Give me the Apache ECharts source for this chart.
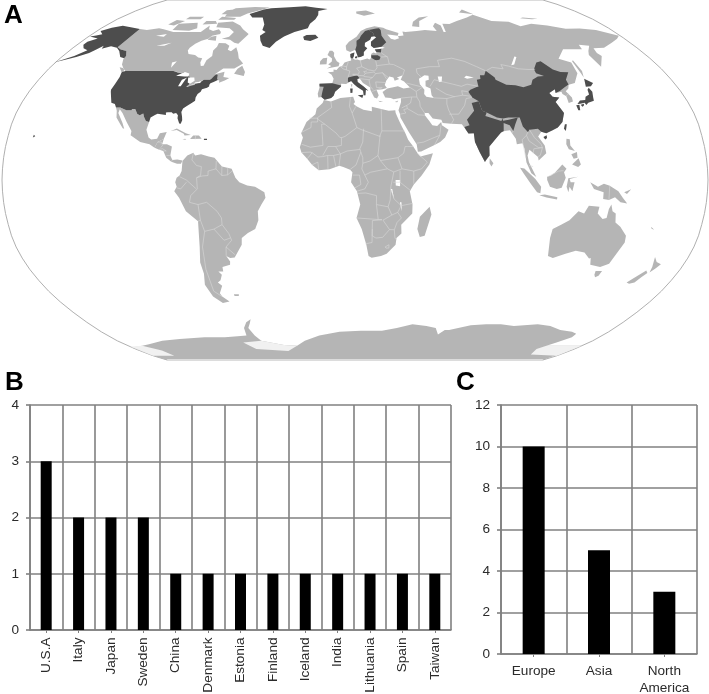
<!DOCTYPE html>
<html><head><meta charset="utf-8">
<style>html,body{margin:0;padding:0;background:#fff}#c{width:709px;height:694px}</style>
<script src="https://cdn.jsdelivr.net/npm/echarts@6/dist/echarts.min.js"></script>
</head><body><div id="c"></div>
<script>
// ---- chart values ----
const countries = ['U.S.A','Italy','Japan','Sweden','China','Denmark','Estonia','Finland','Iceland','India','Lithuania','Spain','Taiwan'];
const countryCounts = [3,2,2,2,1,1,1,1,1,1,1,1,1];
const continents = ['Europe','Asia','North\nAmerica'];
const continentCounts = [10,5,3];
const countryTicks = [0,1,2,3,4];
const continentTicks = [0,2,4,6,8,10,12];

// ---- map outlines, longitude / latitude ----
const highlighted = [
 ['USA',[[[-124.7,48.4],[-123,49],[-95,49],[-94.6,48.7],[-92,48.3],[-89.5,48],[-88.4,48.3],[-84.9,46.9],[-84.5,46.5],[-83.5,46],[-82.5,45.3],[-82.1,43.6],[-82.5,42.6],[-83.1,42.1],[-82.7,41.7],[-79,42.8],[-79,43.3],[-76.8,43.6],[-75,45],[-71.5,45],[-70.8,45.4],[-70,46.7],[-69.2,47.4],[-68.3,47.3],[-67.8,47],[-67.8,45.7],[-67,44.9],[-69,44],[-70.5,43.4],[-70.8,42.7],[-70.6,41.9],[-70,41.7],[-71.5,41.4],[-74,40.7],[-74.2,39.5],[-75.5,38.5],[-76,37],[-75.7,35.5],[-77,34.6],[-79,33.4],[-81,32],[-81.4,30.5],[-80.5,28.5],[-80,26.8],[-80.4,25.2],[-81.2,25.3],[-82.7,27.7],[-82.8,29],[-84,30],[-85.5,29.7],[-86.5,30.4],[-88.5,30.3],[-89.5,30.2],[-89.2,29.1],[-91,29.3],[-93.8,29.7],[-95,29.1],[-97,28],[-97.2,26],[-99,26.4],[-100.5,28.2],[-101.4,29.8],[-103,29],[-104.5,29.6],[-106.5,31.8],[-108.2,31.8],[-108.2,31.3],[-111,31.3],[-114.8,32.5],[-117.1,32.5],[-118.4,34],[-120.6,34.6],[-122,36.8],[-123.8,39.5],[-124.3,40.4],[-124.1,43],[-124,46.3]],
  [[-141,69.6],[-148,70.4],[-156.5,71.3],[-162,70.2],[-166.5,68.5],[-162,66.8],[-165,66.2],[-168,65.6],[-161,64.6],[-165,63],[-165,61.5],[-162,59.8],[-158,58.8],[-162,56],[-170,53],[-160,55.5],[-155,57.5],[-153,59],[-151,61],[-150,59.5],[-146,60.8],[-141,60],[-137.5,58.5],[-133,55.5],[-130,55],[-130,56],[-133,58.5],[-137.5,59.2],[-141,60.3]],
  [[-156,19],[-154.9,19.6],[-155.8,20.3]],[[-157,20.6],[-156,20.6],[-156.5,21]],
  [[-67.2,17.9],[-65.6,17.9],[-65.6,18.5],[-67.2,18.5]]]],
 ['Greenland',[[[-73,78.2],[-68,76],[-60,76],[-55,72],[-54,69],[-51,68],[-53.5,66],[-51.5,63.5],[-48.5,61],[-43.5,59.9],[-41,63],[-37,65.7],[-31,68],[-22.5,70],[-22,72.5],[-19,75],[-18,77.5],[-19,80],[-12,81.5],[-22,82.3],[-32,83.6],[-45,82.8],[-60,82],[-65,81],[-68,79.8]]]],
 ['Iceland',[[[-24,65.5],[-22,66.4],[-16,66.5],[-13.6,65],[-18.5,63.4],[-22.7,63.9]]]],
 ['Spain',[[[-9,43.2],[-1.8,43.4],[3.2,42.4],[3.2,41.9],[0,39.5],[-0.7,37.7],[-2,36.8],[-5.5,36],[-7.4,37.2],[-7,39.5],[-6.5,41.8],[-8.8,41.9]]]],
 ['Italy',[[[7.5,43.8],[8.8,44.4],[10.5,43],[12.3,41.7],[15.5,40],[15.8,38],[16.7,38],[17,40.4],[18.4,40],[16,41.8],[12.5,44],[12.3,45.3],[13.6,45.7],[12.2,47],[7,46],[7,44.2]],
  [[12.5,38],[15.6,38.2],[15,36.7]],[[8.3,41],[9.7,41],[9.6,39.1],[8.5,39]]]],
 ['Sweden',[[[11.2,59],[12.5,56.3],[12.9,55.4],[14.3,55.5],[16.4,56.3],[16.5,58],[18.8,59.8],[17.2,60.8],[17.5,62.5],[21,64],[22,65.5],[24,65.8],[23.5,67.5],[20.5,69],[18,68.5],[15,66],[14,64.5],[12,63.5],[12,61]]]],
 ['Finland',[[[24,65.8],[25.3,65.2],[21.5,63],[21.3,61],[23,59.9],[28,60.5],[31.5,62.8],[29,66],[29,69],[28,70],[26,69.8],[20.5,69],[23.5,67.5]]]],
 ['Denmark',[[[8.2,55.5],[8.1,57],[10.6,57.7],[10.3,56],[9.7,54.9],[8.7,54.9]],[[11,55.7],[12.5,56],[12.3,55],[11,55]]]],
 ['Estonia',[[[23.5,59.2],[28,59.5],[27.5,57.7],[24.4,58],[24.4,58.4]]]],
 ['Lithuania',[[[21,55.2],[21,56.4],[25,56.4],[26.7,55.5],[25.8,54.2],[23.5,54],[22.7,54.4]]]],
 ['China',[[[73.6,39.5],[75,40.5],[80,42],[80.3,45],[82.5,45.3],[83,47],[85.5,47],[87.3,49.1],[91,46],[91,45],[96,42.7],[101,42.5],[105,41.6],[110,42.7],[112,45],[116,46.5],[119.7,46.7],[116,48],[116,49.8],[120,53],[123,53.5],[127,49.7],[130.5,48.5],[135,48.4],[131,45],[131,42.8],[128,41.6],[124.5,40],[121.5,39],[122,40.7],[118,39],[119,37.3],[122.5,37],[119.5,35],[121,32],[122,30],[120,26],[117,23.5],[114,22.3],[110.5,21],[108,21.6],[106.5,23],[102,22.5],[101,21.5],[98.8,24],[98,28],[92,28],[89,27.5],[86,28],[81,30.2],[78.8,31],[78,35.3],[75,37]],
  [[108.7,19.3],[110.5,20],[110.5,18.8],[109.5,18.2]]]],
 ['India',[[[68.2,23.7],[71,24.5],[70,27],[74.5,31],[74,34.5],[78,35.3],[78.8,31],[81,30.2],[80,28.7],[88,26.4],[88.8,27.5],[89,26.6],[92,27],[97,28],[95,25],[93.5,22],[92,24.5],[89,25.5],[88.5,22],[87,21.3],[85,19.5],[80.2,15],[80,11],[78,8.8],[77.5,8.1],[75,12.5],[73,17],[72.8,21],[70,20.8],[69,22.3]]]],
 ['Japan',[[[130.9,34],[133,35.6],[136,35.8],[137,37.3],[139.5,38.3],[140,40.5],[141.3,41.4],[142,39.5],[141,37],[140.5,35.5],[137,34.6],[135.5,33.6],[135,34.6],[132.5,34.2]],
  [[140,41.8],[141.7,45.4],[145.3,43.5],[143,42]],[[130,33.5],[131.8,33.7],[131.2,31.3],[130.2,31.3]],[[132.5,33.7],[134.5,34.2],[134,33.3],[133,32.8]]]],
 ['Taiwan',[[[120.1,23],[121,25],[122,25],[120.9,22]]]]
];
const otherLand = [
 ['Canada',[[[-141,69.6],[-135,69],[-128,70],[-124,69.5],[-115,68],[-108,68],[-100,68],[-96,68],[-94,71.5],[-92,69.5],[-88,68.5],[-85,69.5],[-82,68],[-81.5,67],[-86,66],[-87,64.5],[-90.5,63.5],[-93,62],[-94.5,60],[-94.5,58.7],[-92.5,57],[-88,56.5],[-85,55.3],[-82.3,55],[-82,53],[-80.5,51.3],[-79,51.5],[-79,54],[-77,56],[-78.5,58.7],[-77.5,60.5],[-78,62.4],[-73.5,62.3],[-70,61],[-69.5,59],[-67,58.3],[-65,60.3],[-62,57.5],[-60,55],[-56,52.5],[-60,50.2],[-66.5,50.2],[-70,47.5],[-65,48.7],[-64.5,46.3],[-61,45.8],[-60,46.2],[-63,44.7],[-65.8,43.6],[-66,44.6],[-67,44.9],[-67.8,45.7],[-70,45],[-75,45],[-79,43.3],[-83,42],[-84.5,46.5],[-89.5,48],[-95,49],[-123,49],[-125,50],[-128,52],[-130,54.6],[-130,56],[-133,58.5],[-137.5,59.2],[-141,60.3]],
  [[-62,66.5],[-65,62],[-68,62.5],[-72,64],[-78,64.5],[-74,65.5],[-73,68],[-78,70],[-88,70.5],[-90,73],[-80,73.7],[-72,71.5],[-68,69.5],[-62,67]],
  [[-117,69],[-105,68.7],[-101,70],[-105,73],[-118,72.5]],[[-125,72],[-120,71.5],[-116,74],[-123,74.5]],
  [[-90,76.5],[-78,76.5],[-75,78.5],[-65,81.5],[-62,82.5],[-75,83],[-90,82],[-92,80]],[[-92,74.6],[-80,74.6],[-80,75.7],[-92,76.5]],
  [[-95,78],[-87,78],[-90,81],[-95,80.5]],[[-117,75],[-106,75],[-106,76.5],[-117,76.5]],[[-100,72],[-90,72.5],[-93,74],[-100,74]],
  [[-87,64],[-81,63.5],[-83,66],[-86,65.5]],[[-59,47.7],[-53,46.7],[-53,48.5],[-56,51.5],[-58,50]],[[-128,50.7],[-125,48.6],[-123.5,48.4],[-125,50.3]]]],
 ['Mexico',[[[-117.1,32.5],[-114.8,32.5],[-111,31.3],[-108.2,31.3],[-108.2,31.8],[-106.5,31.8],[-104.5,29.6],[-103,29],[-101.4,29.8],[-100.5,28.2],[-99,26.4],[-97.2,26],[-97.8,22.5],[-96,19],[-94.5,18.2],[-91.5,18.5],[-90.5,21],[-87,21.5],[-88,18.5],[-89,17.9],[-91,17],[-92.2,14.5],[-95,16],[-100,17],[-105.5,20],[-105.5,22],[-109,26],[-112.5,30],[-114.7,31.7],[-114.7,30],[-111,25.5],[-109.5,23],[-110.3,23.2],[-112,25],[-115,28],[-116,31]]]],
 ['CentralAmerica',[[[-92.2,14.5],[-91,17],[-89,17.9],[-88,18.5],[-88.5,16],[-86,16],[-83.3,15],[-83.7,11],[-82.5,9],[-80,9.2],[-77.3,8.7],[-78,7.3],[-80,7.3],[-83,8.2],[-85.7,10],[-87.5,13],[-90,13.7]],
  [[-85,21.9],[-82,23.1],[-77,21],[-74.2,20.2],[-77.5,19.9],[-78,20.7],[-82,22.4]],[[-74.4,18.4],[-68.4,18.5],[-70,19.9],[-73,19.9]],[[-78.3,18.2],[-76.3,18],[-77,18.5]]]],
 ['SouthAmerica',[[[-77.3,8.5],[-75,11],[-72,12.2],[-71,11],[-68,11.5],[-64,10.5],[-61,10],[-57,6],[-52,5],[-50,1],[-48,-1],[-44,-2.5],[-40,-3],[-35.3,-5.5],[-34.8,-8],[-37,-11],[-39,-14],[-39,-18],[-41,-22],[-45,-23.8],[-48.5,-26],[-49,-29],[-52,-32.5],[-54,-34.7],[-56.5,-34.9],[-58.4,-34],[-57,-36.5],[-57.5,-38],[-62,-39],[-62.3,-41],[-65,-41],[-63.7,-42.5],[-65.5,-45],[-67.5,-46],[-65.8,-47.5],[-69,-51],[-68.5,-52.5],[-65.5,-54.8],[-70,-55.5],[-74,-52.5],[-75.5,-47],[-73.5,-42],[-73.5,-37],[-71.5,-30],[-70.3,-18.5],[-76,-14],[-79,-8],[-81.3,-5],[-80,-3],[-80.7,-1],[-80,1],[-78.5,2],[-77.5,4]],
  [[-61,-51.5],[-58,-51.5],[-58.5,-52.3],[-61,-52.3]]]],
 ['Africa',[[[-5.9,35.8],[-2,35.2],[3,36.8],[10,37.3],[11,35],[10.2,34],[12,32.9],[15.5,31.5],[20,30.8],[20,32.8],[25,31.8],[29,31],[32.5,31.3],[32.6,30],[34,27],[35.5,24],[37.2,21],[38.5,18],[41,15],[43.3,11.8],[44.5,10.5],[51,12],[49,7],[45,2],[41,-2],[39,-5],[40.5,-11],[40.5,-15],[35,-20],[35.3,-24],[32.8,-26],[32.5,-29],[28,-33],[25,-34],[20,-34.8],[18.3,-34],[17,-29],[14.5,-22],[11.8,-17],[13.7,-11],[12,-5],[9,-1],[9.7,3.5],[8.5,4.6],[5,5.8],[3,6.4],[-2,4.8],[-7.5,4.4],[-11,6.8],[-13.5,9.5],[-16.5,12.3],[-17.4,14.7],[-16,19],[-17,21],[-14.5,26],[-10,29.5],[-9.5,32],[-6.5,34.5]],
  [[49.3,-12],[50.4,-15.5],[47.5,-25],[45,-25.5],[43.5,-22],[44.5,-16.5]]]],
 ['Eurasia',[[[-9,37],[-9.5,38.7],[-8.8,41.5],[-9,43.2],[-1.8,43.4],[-1.2,45.5],[-2.5,47.3],[-4.7,48.4],[-1.5,48.7],[-1.6,49.7],[0.2,49.5],[1.6,50.9],[3.5,51.4],[4.7,53],[7,53.5],[8.7,53.9],[8.2,55.5],[8.1,57],[10.6,57.7],[10.3,56],[9.7,54.9],[11,54.3],[12.5,54.4],[14.2,53.9],[18.5,54.8],[19.8,54.4],[21,55.2],[21,57],[22.5,57.7],[24.3,57.2],[24.4,58.4],[23.5,59.2],[28,59.5],[30,60],[28,60.5],[23,59.9],[21.3,61],[21.5,63],[25.3,65.2],[24,65.8],[22,65.5],[21,64],[17.5,62.5],[17.2,60.8],[18.8,59.8],[16.5,58],[16.4,56.3],[14.3,55.5],[12.9,55.4],[12.5,56.3],[11.2,59],[10.6,59.3],[8,58],[5.5,58.8],[5,61],[7,63],[12,65.5],[15,68.5],[19,70],[25,71],[31,70.2],[33,69.5],[41,67.5],[40,66],[35,66.5],[33,66.7],[35,64.5],[37.5,64],[40.5,64.7],[40,65.8],[44,66.2],[44,68.3],[46,68],[54,68.5],[60,69],[68,68.5],[67,71],[70,73],[73,71.5],[72.5,68],[74,68],[75,72.5],[80,72.3],[87,74],[97,76],[104,77.7],[113,74],[125,73.5],[130,71],[140,72.5],[150,71.5],[160,69.7],[170,69.8],[180,69],[190,66],[186,64.5],[179,62.5],[170,60],[163,59.8],[162,57.5],[163,56],[156.7,51],[155.7,56.5],[158,58.5],[162,61],[156,61.5],[155,59.3],[143,59.3],[135,54.7],[141,53],[140,48],[135,43.5],[131,42.7],[129.7,41],[127.5,39.8],[129.4,37],[129,35.2],[126.4,34.5],[126.6,37.5],[125,38.5],[125,39.6],[121.5,39],[122,40.7],[118,39],[119,37.3],[122.5,37],[119.5,35],[121,32],[122,30],[120,26],[117,23.5],[114,22.3],[110.5,21],[108,21.6],[106,19.5],[108.8,15.5],[109.2,12],[105,8.7],[104.8,10.3],[102,12.5],[100.7,13.5],[99.5,11],[100,8],[103.5,1.3],[101,3],[98.7,8],[98.2,14],[97.5,16.5],[94.5,16],[94.3,18.5],[91.8,22.3],[89,22],[87,21.3],[85,19.5],[80.2,15],[80,11],[77.5,8.1],[75,12.5],[73,17],[72.8,21],[70,20.8],[69,22.3],[67,25],[61.5,25.2],[57,25.5],[56.5,27],[52,27.5],[50,30],[48,30],[48,29],[50,26.5],[51.5,24.5],[54,24.2],[56.3,26],[56.5,24.5],[59.8,22.5],[57.7,19],[55,17],[52,15.7],[45,12.8],[43.3,12.7],[42.8,16],[39,21.5],[35,28],[34.9,29.5],[34.2,31.3],[35.9,35],[36,36.7],[32,36.2],[30.5,36.7],[27.5,37],[26.2,39.4],[29,41],[35,42],[38,41],[41.7,41.5],[38.8,44.2],[37,45],[38.5,47],[35,46],[36.3,45.3],[33.5,44.5],[33,46],[30.7,46.5],[28.7,44.5],[27.7,42.6],[28.8,41.3],[26.3,40.7],[23,40.3],[24,38],[23,36.5],[21.5,37],[19.5,40.5],[19.5,41.5],[15.5,43.5],[13.6,45.7],[12.3,45.3],[12.5,44],[16,41.8],[18.4,40],[17,40.4],[16.7,38],[15.8,38],[15.5,40],[12.3,41.7],[10.5,43],[8.8,44.4],[6,43.1],[3.2,43.2],[3.2,41.9],[0,39.5],[-0.7,37.7],[-2,36.8],[-5.5,36],[-7,37.2]],
  [[-5.5,50.1],[1.3,51.2],[1.7,52.7],[0,53.5],[-2,56],[-2,57.6],[-3.3,58.6],[-5,58.6],[-6,56.5],[-3,54.8],[-3,53.4],[-5,52],[-3,51.3]],
  [[-10,52],[-6,52.2],[-6,54],[-6,55.2],[-8.5,55],[-10,53.5]],[[12,78.5],[18,77],[27,78.5],[20,80.3],[12,79.7]],
  [[52,71],[57,70.7],[59,74],[68,76.8],[60,76],[54,73.5]],[[142,46],[143.5,49],[143,54],[142,53.5],[142,48]],
  [[95,79],[105,78],[100,81]],[[137,75.5],[145,75],[150,75.3],[140,76]],[[8.6,42.9],[9.5,42.9],[9.3,41.4]],
  [[32.5,35],[34.5,35.6],[33.8,34.8]],[[23.6,35.5],[26.2,35.2],[24.5,35]],[[80,9.7],[81.8,7.5],[80.7,6],[79.8,7.5]]]],
 ['Oceania',[[[114,-22],[113.5,-26],[115,-34],[118,-35],[124,-33],[129,-31.7],[134,-32.5],[137.7,-35.2],[138.5,-35],[140,-38],[146,-39],[150,-37.5],[151,-34],[153.5,-28],[153,-25],[149,-21],[146,-19],[145.3,-15],[143.5,-14],[142.5,-11],[141.5,-13],[141,-17],[139,-17.5],[136,-15],[136.5,-12],[131,-11.5],[129,-15],[126,-14],[122,-18],[118,-20]],
  [[144.7,-40.8],[148.3,-40.8],[148,-43],[146.5,-43.6],[145.3,-42.5]],
  [[173,-34.5],[175.5,-36.8],[178.5,-37.7],[177,-39.7],[175.3,-41.5],[174.7,-39]],[[172.7,-40.6],[174.3,-41.7],[172.7,-43.5],[171,-46],[168.5,-46.6],[166.5,-46],[170,-43]],
  [[131,-1],[135,-3],[138,-1.7],[141,-2.6],[145.5,-5],[148,-8],[150.5,-10.5],[147,-10],[144,-7.7],[141,-9],[138,-8.5],[138,-5.5],[133,-4]],
  [[109,1.5],[111,2],[113,3.2],[117,7],[119,5],[117.7,3.5],[118.5,1],[116.5,-3.5],[114,-4],[110.5,-3],[109,0]],
  [[95.3,5.5],[97.5,5.2],[103,0.5],[106,-3],[105.7,-5.9],[104,-5.5],[100.5,-1.5],[97,3]],
  [[105.2,-6.8],[108,-6.5],[114.5,-7.7],[114.4,-8.7],[109,-7.8]],
  [[119.8,0.8],[125,1.5],[120.5,0.5],[121,-1],[123,-1],[122,-5],[120.5,-3],[120,-5.5],[119,-3]],
  [[120.5,18.5],[122.2,18.3],[122,15.5],[124,13],[121,13.8],[120,16]],[[122,7],[125.5,9.7],[126.5,7],[125,5.8]],[[122,11.5],[125,12.5],[125,10],[123,9.5]],
  [[148.5,-5.5],[152,-4.2],[150,-6.3]],[[165,-21],[167,-22.3],[165.5,-21.8]]]],
 ['Antarctica',[[[-169,-90],[-169,-85],[-169,-79],[-158,-78],[-150,-77],[-135,-75],[-120,-74],[-100,-73],[-85,-73],[-75,-72.5],[-68,-72],[-66,-68],[-62,-65],[-58,-63.5],[-60,-65.5],[-63,-68],[-62,-72],[-60,-75],[-45,-77.5],[-35,-78],[-27,-75],[-15,-72],[0,-70],[15,-69.5],[30,-69.5],[40,-68],[50,-66],[60,-67],[67,-68],[71,-71.5],[74,-69],[77,-69],[90,-66.5],[100,-66],[110,-66],[120,-67],[135,-66],[145,-67],[155,-69],[165,-70],[170,-71],[171,-73],[166,-76],[163,-78],[191,-78],[191,-90]]]]
];
const iceShelves = [[[-169,-78.5],[-158,-78],[-150,-81],[-150,-85],[-169,-85]],[[191,-78],[163,-78],[160,-80],[165,-84],[191,-85]],[[-75,-76],[-60,-75],[-45,-77.5],[-35,-78],[-45,-81.5],[-70,-80]]];
const lakes = [
 [[-92,46.8],[-88,48.6],[-85,47.9],[-84.6,46.5],[-87,46.5]],[[-88,42],[-86.5,42],[-85.5,45.5],[-85,46],[-87.5,45]],[[-84.5,46],[-81,46],[-80,44.5],[-82,43.2],[-83.5,43.7]],[[-83.3,41.7],[-79,42.7],[-79,43],[-83,42.2]],[[-79.7,43.3],[-76.3,43.5],[-76.3,44.1],[-79.2,43.9]],
 [[-124,66],[-118,67],[-118,65.5]],[[-117,61],[-109,62.5],[-112,61]],[[-99,53],[-96.5,53.5],[-97.5,50.5]],
 [[47.5,45.5],[51,47],[53.3,46.8],[53,45],[51,44.5],[50.5,42],[53,41],[53,38],[54,36.8],[50,37.3],[49,38.5],[49.5,40.5],[47.5,43]],
 [[58.5,46.5],[61,46.5],[60,44],[58.5,44]],[[104,51.7],[106,52],[110,55.5],[109,55.8]],[[73.5,46],[75,46.8],[79,46],[78.5,45.6],[75,45.5]],
 [[31.7,0],[34,0],[34,-2.8],[31.8,-2.5]],[[29.2,-4],[30,-4],[31,-8.5],[30.5,-8.5]],[[34,-10],[34.8,-10],[35,-14],[34.5,-14]]
];
const borders = [
 [[-72,12],[-72.5,9],[-70,6.5],[-67.5,6],[-67.8,2],[-69.8,1]],[[-60,8.5],[-60,5],[-64,4],[-64,2],[-67,1.8],[-69.8,1],[-69.5,-4],[-73,-7],[-73.8,-10],[-69.5,-11],[-65,-10],[-60,-14],[-58,-17],[-58,-20],[-55,-24],[-54,-27],[-57.5,-30],[-53.5,-33.5]],
 [[-60,5],[-57,2],[-54,2.3],[-51.7,4]],[[-57,6],[-57,2]],[[-54,5.5],[-54,2.3]],[[-69.5,-11],[-69,-18],[-67.5,-23],[-70,-30],[-71.5,-40],[-72,-50],[-68.6,-52.5]],[[-67.5,-23],[-62.5,-22],[-58,-20]],[[-62.5,-22],[-58,-27],[-54.5,-26]],[[-58.4,-34],[-57.5,-30]],[[-78.5,1.5],[-75,0],[-70,-4]],[[-80,-3.5],[-78,-4],[-75,-1]],[[-70.3,-18.5],[-69,-18]],
 [[-91,17],[-89,17],[-89,15.9]],[[-90,13.7],[-88,14],[-86,13],[-87.5,13]],[[-88,15.8],[-89,14.5]],[[-83.7,11],[-85.7,11]],[[-83,8.2],[-82.5,9]],[[-71.7,19.8],[-71.7,18.2]],
 [[-2,35],[-1.5,32.5],[-8.7,28],[-8.7,27.3]],[[-13,27.7],[-8.7,27.7],[-8.7,26],[-12,26],[-12,23.5],[-17,21.3]],[[-8.7,27.3],[-4.8,25],[-6.5,25],[-5.5,15.5],[-12,14.7],[-16.5,16]],[[-4.8,25],[1.2,21],[3.2,19],[4.2,19],[5.8,19.5],[12,23.5],[9.5,30],[8,33],[8.5,37]],[[9.5,30],[11.5,33]],[[12,23.5],[14.2,22.6],[24,19.5],[24,20],[25,22],[25,31.8]],[[25,22],[36.8,22]],[[15.5,23],[15,17],[13.5,14],[14,12.5],[15,10],[15,7.5]],[[4,19],[4,15.5],[1,15],[3.5,11.7],[7,13],[13.5,13.7]],[[-5.5,11],[-3,15],[1,15]],[[14,12.5],[11.5,6.7],[8.6,4.8]],[[3.6,11.7],[2.8,6.4]],[[-3,11],[-2.8,5]],[[1.2,6],[0,11]],[[-7.5,4.4],[-8,8],[-11,6.8]],[[-13.5,9.5],[-11,12.2],[-8,10.3],[-5.5,10.5],[-3,11],[0,11],[3.6,11.7]],[[-16.5,12.3],[-12,12.5],[-11,12.2]],
 [[15,7.5],[18.7,8.5],[22.8,11],[24,8.7],[27.5,5],[19,3.5],[16,2.2],[14.5,5],[15,7.5]],[[24,20],[22.8,11]],[[24,8.7],[33,10],[35,5],[30.8,3.6],[27.5,5]],[[36.8,15],[36,12],[33,10]],[[41,15],[38,15],[36.8,15]],[[43,12],[48,8],[45,5],[41,4],[35,5]],[[41,4],[41,-1.7]],[[34,4.2],[34,-1],[39.3,-4.7]],[[30.5,-1],[34,-1]],[[29.5,-4.5],[31,-8.5],[34.7,-11.5],[40.5,-10.5]],[[12.3,-6],[16.5,-5.8],[22,-7],[22,-11],[28,-12],[29,-9],[29.3,-3],[30.8,3.6]],[[16,2.2],[17.8,-1],[16,-4],[12,-5]],[[9.8,2.2],[13.3,2.2],[14,-2],[11,-3.5]],[[11.8,-17],[23,-17.7],[22,-11]],[[23,-17.7],[25,-17.8],[20,-18.2],[20,-28],[16.5,-28.6]],[[20,-22],[20,-25],[22,-26],[25.5,-25.7],[29,-22.2],[25.5,-18]],[[25.5,-18],[30,-15.7],[28,-12]],[[30,-15.7],[33,-14.5],[34.7,-11.5]],[[33,-14.5],[35,-17],[32.8,-19],[31.5,-22.3],[32,-26],[32.8,-26.8]],[[29,-22.2],[31.5,-22.3]],[[27,-30],[29,-29],[29,-30.5],[27.5,-30.5],[27,-30]],
 [[28,59.5],[27.5,57.5],[31,55.5],[31.5,52.2],[34,52],[40,49.5],[38.5,47]],[[40,43.5],[48,41.8]],[[49,46.2],[47,48],[47,50],[55,51],[61,51],[61,54],[70,55],[77,53.5],[83,51],[87.3,49.1]],[[87.8,49.2],[92,50.7],[98,50],[98,52],[102,51.3],[107,50],[113,49.7],[116.7,49.8]],
 [[36,36.7],[42,37.2],[44.8,37.2]],[[41.7,41.5],[44.8,39.7],[44.8,37.2],[46,35],[46,33],[48,30]],[[42,37.2],[41,34.5],[38.8,33.4]],[[36,32.3],[38.8,33.4],[39,32],[37,31.5],[38,30],[35,29.5]],[[39,32],[44.5,29.2],[48,29]],[[43,16.5],[46.5,17],[52,19],[55,20],[52,15.7]],[[55,20],[56,24.5]],[[44.8,39.7],[48.5,41.5]],
 [[61,36.5],[60.5,34],[61,31.3],[63,27],[61.5,25.2]],[[61,29.5],[66,29.5],[70,33.5],[71.5,36.5],[74.8,37]],[[61,36.5],[65,37.3],[70,38],[74.8,37.5]],[[53,42],[56,45],[61,44],[66,43],[70.5,42],[74,43],[80,42]],[[56,41.3],[61,38.5],[65.5,37.3]],[[70,40],[73.6,39.5]],[[54,36.8],[61,36.5]],[[70,38],[70,40]],
 [[92.5,21],[93.5,22]],[[101,21.5],[100,20],[97.5,18],[98.5,10]],[[102,22.5],[104,19],[107,16],[107.5,14.5],[105.5,14.5],[101,17.5],[100,20]],[[102.5,12],[103,14],[107.5,14.5],[106,11],[104.5,10.4]],[[100,6.5],[102,6]],[[126.6,37.7],[128.4,38.6]],[[141,-2.6],[141,-9]],[[109.5,1.5],[115,4],[117.5,4.2]],
 [[2.5,51],[4,50],[6,49.5],[8,49],[7.5,47.5],[7,46]],[[14.2,53.9],[15,51],[12,50.3],[13.5,48.7],[13,47.5],[9.6,47.5]],[[7,53.3],[6,51],[6,49.5]],[[15,51],[19,49.5],[22.5,49],[24,50.5],[23.5,54]],[[18,49],[16,48.7],[17,48],[22,48.5]],[[9.6,47.2],[16,46.8],[17,48]],[[22,48.5],[23,47.8],[21,46],[16,46.5]],[[23,47.8],[27,48.2],[29,45.3]],[[22.7,44],[28.6,43.7]],[[22.7,44],[23,41.5],[26.3,41.5]],[[13.6,45.5],[19,45],[21,46]],[[19,45],[19.5,42],[21,40.5]],[[20.5,39.7],[26,41.3]],[[24,51.5],[31.5,52.2]],[[26.7,55.5],[31,55.8]],[[27,48.2],[30,46]],[[2.5,51],[4,51.3],[6,51]]
];

// ---- Robinson projection, matched to the frame of panel A ----
const robA=[1,.9986,.9954,.99,.9822,.973,.96,.9427,.9216,.8962,.8679,.835,.7986,.7597,.7186,.6732,.6213,.5722,.5322];
const robB=[0,.062,.124,.186,.248,.31,.372,.434,.4958,.5571,.6176,.6769,.7346,.7903,.8435,.8936,.9394,.9761,1];
const lon0=11, cx=355, cy=180, hw=353, hh=180;
function robinson(p){
  const a=Math.min(90,Math.abs(p[1]))/5, i=Math.min(17,Math.floor(a)), f=a-i;
  const A=robA[i]+(robA[i+1]-robA[i])*f, B=robB[i]+(robB[i+1]-robB[i])*f;
  return [cx+hw*A*(p[0]-lon0)/180, cy-hh*B*(p[1]<0?-1:1)];
}
const frameRing=[];
for(let t=-90;t<=90;t+=5)frameRing.push([lon0-180,t]);
for(let t=90;t>=-90;t-=5)frameRing.push([lon0+180,t]);
const feature=(name,rings)=>({type:'Feature',properties:{name},geometry:{type:'Polygon',coordinates:rings}});
const multi=(name,rings)=>({type:'Feature',properties:{name},geometry:{type:'MultiPolygon',coordinates:rings.map(r=>[r.concat([r[0]])])}});
const features=[feature('frame',[frameRing.concat([frameRing[0]])])];
otherLand.forEach(d=>features.push(multi(d[0],d[1])));
features.push(multi('shelves',iceShelves));
highlighted.forEach(d=>features.push(multi(d[0],d[1])));
features.push(multi('lakes',lakes));

const LAND='#b5b5b5', DARK='#4d4d4d', AXIS='#808080', TEXT='#2b2b2b', FONT='"Liberation Sans",Arial,sans-serif';
const chart=echarts.init(document.getElementById('c'),null,{renderer:'canvas'});
echarts.registerMap('world',{type:'FeatureCollection',features});
const fillOnly=c=>({areaColor:c,borderWidth:0,borderColor:'transparent'});

const xAxisCommon=(idx,data,label)=>({gridIndex:idx,type:'category',data,
  axisLine:{lineStyle:{color:AXIS,width:1.6}},
  axisTick:{show:true,alignWithLabel:true,length:3,lineStyle:{color:AXIS,width:1}},
  splitLine:{show:true,lineStyle:{color:AXIS,width:1.6}},
  axisLabel:Object.assign({interval:0,color:TEXT,fontFamily:FONT,fontSize:13.6},label)});
const yAxisCommon=(idx,ticks)=>({gridIndex:idx,type:'value',min:ticks[0],max:ticks[ticks.length-1],interval:ticks[1]-ticks[0],
  axisLine:{show:true,lineStyle:{color:AXIS,width:1.6}},axisTick:{show:true,length:4,lineStyle:{color:AXIS,width:1.6}},
  splitLine:{show:true,lineStyle:{color:AXIS,width:1.6}},
  axisLabel:{color:TEXT,fontFamily:FONT,fontSize:13.6,margin:11}});

chart.setOption({
  animation:false,backgroundColor:'#fff',tooltip:{show:false},
  geo:{map:'world',silent:true,roam:false,left:2,top:0,width:706,height:360,z:1,
    projection:{project:robinson,unproject:p=>p},
    itemStyle:fillOnly(LAND),emphasis:{disabled:true},label:{show:false},
    regions:[{name:'frame',itemStyle:{areaColor:'#fff',borderColor:'#b0b0b0',borderWidth:1}},
      {name:'shelves',itemStyle:fillOnly('#f1f1f1')},
      {name:'lakes',itemStyle:fillOnly('#fff')}]
      .concat(highlighted.map(d=>({name:d[0],itemStyle:fillOnly(DARK)})))},
  grid:[{left:30,top:405,width:421,height:225,outerBoundsMode:'none'},{left:501,top:405,width:196,height:249,outerBoundsMode:'none'}],
  xAxis:[xAxisCommon(0,countries,{rotate:90,margin:7.5}),xAxisCommon(1,continents,{margin:9,lineHeight:16.5})],
  yAxis:[yAxisCommon(0,countryTicks),yAxisCommon(1,continentTicks)],
  series:[
    {type:'lines',coordinateSystem:'geo',polyline:true,silent:true,z:3,lineStyle:{color:'#d9d9d9',width:0.6,opacity:1},
      data:borders.map(c=>({coords:c}))},
    {type:'lines',coordinateSystem:'geo',polyline:true,silent:true,z:4,lineStyle:{color:'#dcdcdc',width:2,opacity:1},
      data:[{coords:[[lon0-180,90],[lon0+180,90]]},{coords:[[lon0-180,-90],[lon0+180,-90]]}]},
    {type:'bar',xAxisIndex:0,yAxisIndex:0,data:countryCounts,barWidth:11,itemStyle:{color:'#000'},silent:true,z:5},
    {type:'bar',xAxisIndex:1,yAxisIndex:1,data:continentCounts,barWidth:22,itemStyle:{color:'#000'},silent:true,z:5}
  ],
  graphic:[['A',4,29],['B',5,396],['C',456,396]].map(d=>({type:'text',x:d[1],y:d[2],z:10,
    style:{text:d[0],fill:'#000',font:'bold 26px '+FONT,verticalAlign:'bottom'}}))
});
</script></body></html>
